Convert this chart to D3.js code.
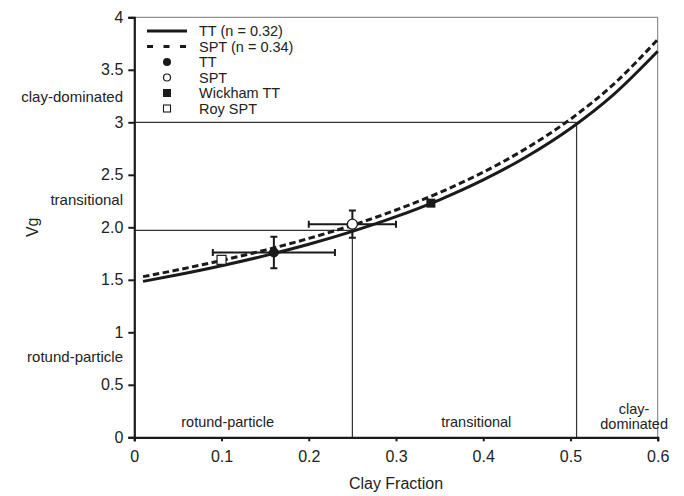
<!DOCTYPE html>
<html>
<head>
<meta charset="utf-8">
<script src="https://cdn.jsdelivr.net/npm/d3@7/dist/d3.min.js"></script>
<style>
  html, body { margin: 0; padding: 0; background: #fff; }
  svg { display: block; font-family: "Liberation Sans", Arial, sans-serif; }
</style>
</head>
<body>
<div id="chart"></div>
<script>
// Clay fraction vs. Vg: model curves for two porosities, measured points and class boundaries
const curveX   = [0.01, 0.05, 0.10, 0.15, 0.20, 0.25, 0.30, 0.35, 0.40, 0.45, 0.50, 0.55, 0.60];
const curveTT  = [1.485, 1.548, 1.634, 1.730, 1.838, 1.961, 2.101, 2.262, 2.451, 2.674, 2.941, 3.268, 3.676];
const curveSPT = [1.530, 1.595, 1.684, 1.783, 1.894, 2.020, 2.165, 2.331, 2.525, 2.755, 3.030, 3.367, 3.788];

// measured points: [clay fraction, Vg, x error, y error]
const pointTT      = [0.16, 1.76, 0.07, 0.15];
const pointSPT     = [0.25, 2.03, 0.05, 0.13];
const pointWickham = [0.34, 2.23];
const pointRoy     = [0.10, 1.69];

// class boundaries [clay fraction, Vg]
const boundaries = [[0.25, 1.97], [0.507, 3.0]];

const xTicks = [0, 0.1, 0.2, 0.3, 0.4, 0.5, 0.6];
const xTickLabels = ["0", "0.1", "0.2", "0.3", "0.4", "0.5", "0.6"];
const yTicks = [0, 0.5, 1, 1.5, 2, 2.5, 3, 3.5, 4];
const yTickLabels = ["0", "0.5", "1", "1.5", "2.0", "2.5", "3", "3.5", "4"];

const legendLabels = ["TT (n = 0.32)", "SPT (n = 0.34)", "TT", "SPT", "Wickham TT", "Roy SPT"];
const bottomZoneLabels = [["rotund-particle"], ["transitional"], ["clay-", "dominated"]];
const bottomZoneX = [0.107, 0.392, 0.573];
const sideZoneLabels = ["clay-dominated", "transitional", "rotund-particle"];
const sideZoneY = [3.24, 2.26, 0.77];

const W = 684, H = 496;
const margin = { left: 134.3, right: 26.3, top: 17.3, bottom: 58.7 };

const svg = d3.select("#chart").append("svg").attr("width", W).attr("height", H);

const x = d3.scaleLinear().domain([0, 0.6]).range([margin.left, W - margin.right]);
const y = d3.scaleLinear().domain([0, 4]).range([H - margin.bottom, margin.top]);

const ink = "#1a1a1a";

// frame top and right
svg.append("path")
  .attr("d", `M${x(0)},${y(4)}H${x(0.6)}V${y(0)}`)
  .attr("fill", "none").attr("stroke", "#777").attr("stroke-width", 1);

// class boundary lines
boundaries.forEach(([bx, by]) => {
  svg.append("path")
    .attr("d", `M${x(0)},${y(by)}H${x(bx)}M${x(bx)},${y(0)}V${y(by)}`)
    .attr("fill", "none").attr("stroke", "#333").attr("stroke-width", 1.2);
});

// axes
const xAxis = svg.append("g").attr("transform", `translate(0,${y(0)})`)
  .call(d3.axisBottom(x).tickValues(xTicks).tickFormat((d, i) => xTickLabels[i]).tickSize(4).tickPadding(9));
const yAxis = svg.append("g").attr("transform", `translate(${x(0)},0)`)
  .call(d3.axisLeft(y).tickValues(yTicks).tickFormat((d, i) => yTickLabels[i]).tickSize(6).tickPadding(5));
[xAxis, yAxis].forEach(g => {
  g.select(".domain").attr("stroke", ink).attr("stroke-width", 2.2);
  g.selectAll(".tick line").attr("stroke", ink).attr("stroke-width", 2);
  g.selectAll(".tick text").attr("fill", "#222").style("font-size", "16px")
    .style("font-family", "'Liberation Sans', Arial, sans-serif");
});

// axis titles
svg.append("text").attr("x", x(0.3)).attr("y", 489).attr("text-anchor", "middle")
  .attr("fill", "#222").style("font-size", "16px").text("Clay Fraction");
svg.append("text").attr("transform", `translate(38,${y(2.0)}) rotate(-90)`)
  .attr("text-anchor", "middle").attr("fill", "#222").style("font-size", "16px").text("Vg");

// zone labels along the y axis
sideZoneLabels.forEach((t, i) => {
  svg.append("text").attr("x", 123).attr("y", y(sideZoneY[i])).attr("dy", "0.35em")
    .attr("text-anchor", "end").attr("fill", "#222").style("font-size", "15px").text(t);
});

// zone labels along the x axis
bottomZoneLabels.forEach((lines, i) => {
  const t = svg.append("text").attr("x", x(bottomZoneX[i])).attr("text-anchor", "middle")
    .attr("fill", "#222").style("font-size", "14.5px");
  const y0 = lines.length === 1 ? 427 : 414;
  lines.forEach((ln, j) => {
    t.append("tspan").attr("x", x(bottomZoneX[i])).attr("y", y0 + j * 15).text(ln);
  });
});

// model curves
const line = d3.line().x(d => x(d[0])).y(d => y(d[1])).curve(d3.curveMonotoneX);
svg.append("path").datum(curveX.map((v, i) => [v, curveSPT[i]]))
  .attr("d", line).attr("fill", "none").attr("stroke", ink)
  .attr("stroke-width", 3).attr("stroke-dasharray", "6.5,3.5");
svg.append("path").datum(curveX.map((v, i) => [v, curveTT[i]]))
  .attr("d", line).attr("fill", "none").attr("stroke", ink).attr("stroke-width", 3);

// error bars
function errorBars(p) {
  const [px, py, ex, ey] = p;
  const cap = 3.5;
  const d = `M${x(px - ex)},${y(py)}H${x(px + ex)}` +
    `M${x(px - ex)},${y(py) - cap}V${y(py) + cap}M${x(px + ex)},${y(py) - cap}V${y(py) + cap}` +
    `M${x(px)},${y(py + ey)}V${y(py - ey)}` +
    `M${x(px) - cap},${y(py + ey)}H${x(px) + cap}M${x(px) - cap},${y(py - ey)}H${x(px) + cap}`;
  svg.append("path").attr("d", d).attr("fill", "none").attr("stroke", ink).attr("stroke-width", 2);
}
errorBars(pointTT);
errorBars(pointSPT);

// point markers
svg.append("circle").attr("cx", x(pointTT[0])).attr("cy", y(pointTT[1])).attr("r", 5).attr("fill", ink);
svg.append("circle").attr("cx", x(pointSPT[0])).attr("cy", y(pointSPT[1])).attr("r", 5)
  .attr("fill", "#fff").attr("stroke", ink).attr("stroke-width", 1.3);
svg.append("rect").attr("x", x(pointWickham[0]) - 4.5).attr("y", y(pointWickham[1]) - 4.5)
  .attr("width", 9).attr("height", 9).attr("fill", ink);
svg.append("rect").attr("x", x(pointRoy[0]) - 4.5).attr("y", y(pointRoy[1]) - 4.5)
  .attr("width", 9).attr("height", 9).attr("fill", "#fff").attr("stroke", ink).attr("stroke-width", 1.2);

// legend
const lg = svg.append("g");
const lx = 167, rowY = d => 31 + d * 15.5;
lg.append("line").attr("x1", lx - 20).attr("x2", lx + 20).attr("y1", rowY(0)).attr("y2", rowY(0))
  .attr("stroke", ink).attr("stroke-width", 3.2);
lg.append("line").attr("x1", lx - 20).attr("x2", lx + 19).attr("y1", rowY(1)).attr("y2", rowY(1))
  .attr("stroke", ink).attr("stroke-width", 3.2).attr("stroke-dasharray", "6,10.5");
lg.append("circle").attr("cx", lx).attr("cy", rowY(2)).attr("r", 4).attr("fill", ink);
lg.append("circle").attr("cx", lx).attr("cy", rowY(3)).attr("r", 3.5)
  .attr("fill", "#fff").attr("stroke", ink).attr("stroke-width", 1.2);
lg.append("rect").attr("x", lx - 4).attr("y", rowY(4) - 4).attr("width", 8).attr("height", 8).attr("fill", ink);
lg.append("rect").attr("x", lx - 3.5).attr("y", rowY(5) - 3.5).attr("width", 7).attr("height", 7)
  .attr("fill", "#fff").attr("stroke", ink).attr("stroke-width", 1.1);
legendLabels.forEach((t, i) => {
  lg.append("text").attr("x", 199).attr("y", rowY(i)).attr("dy", "0.35em")
    .attr("fill", "#222").style("font-size", "14.5px").text(t);
});
</script>
</body>
</html>
